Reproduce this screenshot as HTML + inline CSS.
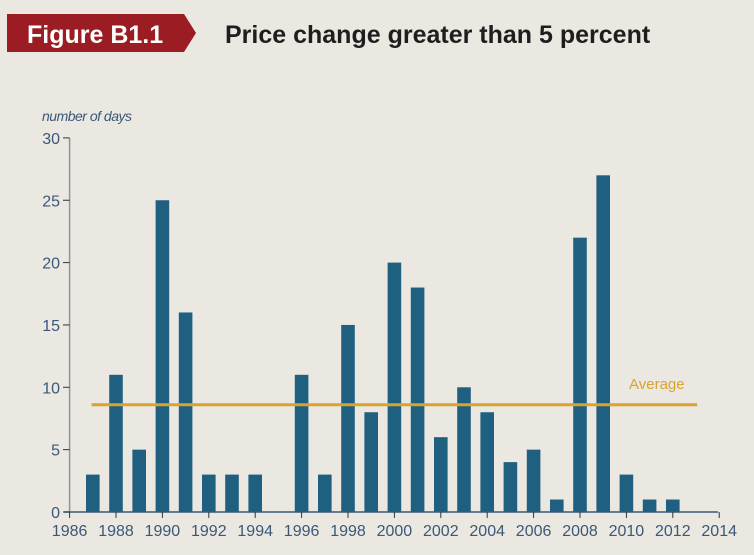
<!DOCTYPE html>
<html><head><meta charset="utf-8"><style>
body{margin:0;width:754px;height:550px;background:#eae8e1;font-family:"Liberation Sans",sans-serif;overflow:hidden}
</style></head><body>
<svg width="754" height="550">
<polygon points="7,14 184,14 196,33 184,52 7,52" fill="#9b1c22"/>
<text x="27" y="43" font-size="25" font-weight="bold" fill="#fff" font-family="Liberation Sans, sans-serif">Figure B1.1</text>
<text x="225" y="43" font-size="25" font-weight="bold" fill="#1e1e1e" font-family="Liberation Sans, sans-serif">Price change greater than 5 percent</text>
<text x="42" y="121" font-size="14" font-style="italic" fill="#3a5878" letter-spacing="-0.5">number of days</text>
<g id="plot"></g>
</svg>
<script>
const years=[1987,1988,1989,1990,1991,1992,1993,1994,1995,1996,1997,1998,1999,2000,2001,2002,2003,2004,2005,2006,2007,2008,2009,2010,2011,2012];
const days=[3,11,5,25,16,3,3,3,0,11,3,15,8,20,18,6,10,8,4,5,1,22,27,3,1,1];
const yTicks=[0,5,10,15,20,25,30];
const xTicks=[1986,1988,1990,1992,1994,1996,1998,2000,2002,2004,2006,2008,2010,2012,2014];
const average=8.6;
const NS='http://www.w3.org/2000/svg';
const g=document.getElementById('plot');
const X=v=>69.6+(v-1986)*23.2;
const Y=v=>512-v*12.47;
function mk(t,a){const e=document.createElementNS(NS,t);for(const k in a)e.setAttribute(k,a[k]);g.appendChild(e);return e;}
years.forEach((yr,i)=>{if(days[i]<=0)return;
const r=mk('rect',{x:X(yr)-6.8,y:Y(days[i]),width:13.6,height:512-Y(days[i]),fill:'#1f5f7f'});

});
const ax=mk('line',{x1:69.6,y1:138,x2:69.6,y2:512,stroke:'#8a96a0','stroke-width':1.5});


const bx=mk('line',{x1:64,y1:512,x2:718,y2:512,stroke:'#3a5878','stroke-width':1.5});


yTicks.forEach(v=>{mk('line',{x1:63,y1:Y(v),x2:69.6,y2:Y(v),stroke:'#333','stroke-width':1});
const t=mk('text',{x:60,y:Y(v)+6,'text-anchor':'end','font-size':16,fill:'#3a5878'});t.textContent=v;

});
xTicks.forEach(v=>{mk('line',{x1:X(v),y1:512,x2:X(v),y2:518,stroke:'#333','stroke-width':1});
const t=mk('text',{x:X(v),y:536,'text-anchor':'middle','font-size':16,fill:'#3a5878'});t.textContent=v;

});
const al=mk('line',{x1:X(1986.95),y1:Y(average),x2:X(2013.05),y2:Y(average),stroke:'#d9a32e','stroke-width':3});


const at=mk('text',{x:629,y:389,'font-size':15,fill:'#d9a32e'});at.textContent='Average';


</script>
</body></html>
